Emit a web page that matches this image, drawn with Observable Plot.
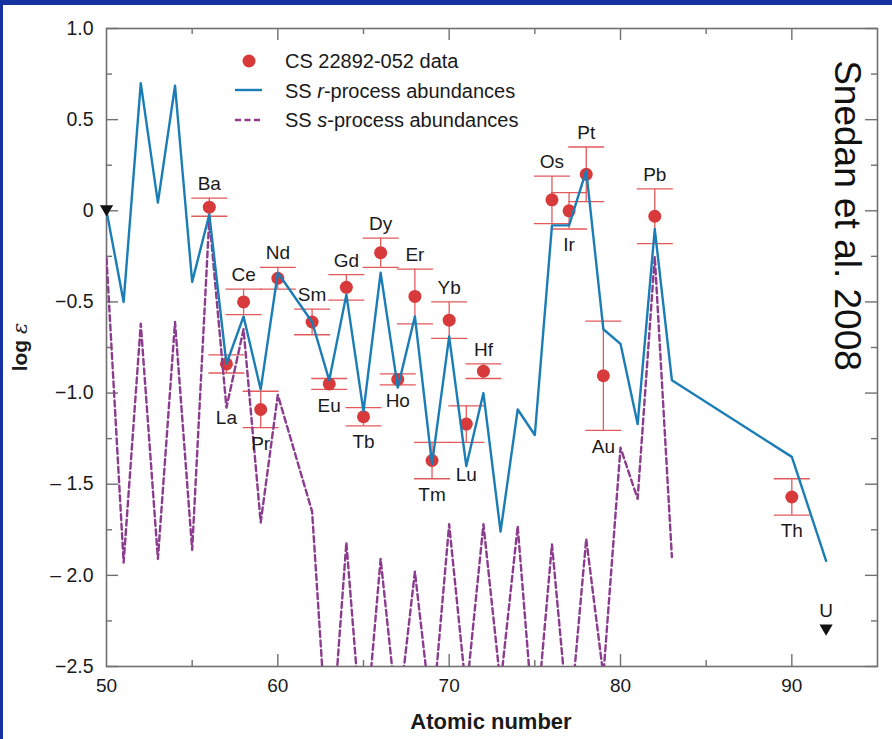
<!DOCTYPE html>
<html>
<head>
<meta charset="utf-8">
<script src="https://cdn.jsdelivr.net/npm/d3@7"></script>
<script src="https://cdn.jsdelivr.net/npm/@observablehq/plot@0.6"></script>
<style>
  body { margin: 0; background: #fff; }
  #chart { width: 892px; height: 739px; }
</style>
</head>
<body>
<div id="chart"></div>
<script>
// ---- Data ----
const elements      = ["Ba","La","Ce","Pr","Nd","Sm","Eu","Gd","Tb","Dy","Ho","Er","Tm","Yb","Lu","Hf","Os","Ir","Pt","Au","Pb","Th"];
const atomicNumbers = [56,57,58,59,60,62,63,64,65,66,67,68,69,70,71,72,76,77,78,79,82,90];
const logEps        = [0.02,-0.84,-0.50,-1.09,-0.37,-0.61,-0.95,-0.42,-1.13,-0.23,-0.925,-0.47,-1.37,-0.60,-1.17,-0.88,0.06,0.00,0.20,-0.905,-0.03,-1.57];
const logEpsErr     = [0.05,0.05,0.07,0.10,0.06,0.07,0.03,0.07,0.05,0.08,0.03,0.15,0.10,0.10,0.10,0.04,0.13,0.10,0.15,0.30,0.15,0.10];
const labelSide     = ["above","below","above","below","above","above","below","above","below","above","below","above","below","above","below","above","above","below","above","below","above","below"];

const rProcessZ   = [50,51,52,53,54,55,56,57,58,59,60,62,63,64,65,66,67,68,69,70,71,72,73,74,75,76,77,78,79,80,81,82,83,90,92];
const rProcessVal = [0.00,-0.50,0.70,0.045,0.686,-0.39,-0.02,-0.84,-0.58,-0.98,-0.34,-0.61,-0.93,-0.46,-1.10,-0.34,-0.97,-0.58,-1.39,-0.69,-1.40,-1.00,-1.76,-1.09,-1.23,-0.08,-0.08,0.22,-0.65,-0.73,-1.17,-0.10,-0.93,-1.35,-1.92];

const sProcessZ   = [50,51,52,53,54,55,56,57,58,59,60,62,63,64,65,66,67,68,69,70,71,72,73,74,75,76,77,78,79,80,81,82,83];
const sProcessVal = [-0.26,-1.93,-0.62,-1.91,-0.61,-1.86,-0.04,-1.08,-0.65,-1.71,-1.01,-1.65,-3.1,-1.82,-3.0,-1.91,-2.8,-1.98,-2.8,-1.72,-2.65,-1.72,-2.6,-1.73,-2.9,-1.83,-2.85,-1.80,-2.55,-1.30,-1.58,-0.25,-1.90];

const limitLabels = ["Sn","U"];
const limitZ      = [50,92];
const limitVal    = [0.01,-2.29];
const limitShown  = ["","U"];

const xLabelTicks = [50,60,70,80,90];
const xMajorTicks = [60,70,80,90];
const xMinorTicks = [55,65,75,85];
const yTickValues = [1.0,0.5,0,-0.5,-1.0,-1.5,-2.0,-2.5];
const yTickLabels = ["1.0","0.5","0","\u22120.5","\u22121.0","\u2013 1.5","\u2013 2.0","\u22122.5"];
const yMinorTicks = [0.75,0.25,-0.25,-0.75,-1.25,-1.75,-2.25];

// ---- Tables built from the arrays ----
const obs = elements.map((el, i) => ({
  el, z: atomicNumbers[i], v: logEps[i], e: logEpsErr[i], side: labelSide[i]
}));
const rLine = rProcessZ.map((z, i) => ({z, v: rProcessVal[i]}));
const sLine = sProcessZ.map((z, i) => ({z, v: sProcessVal[i]}));
const limits = limitLabels.map((el, i) => ({el, z: limitZ[i], v: limitVal[i], shown: limitShown[i]}));

// label placement (annotation layout, pixels)
const labelGapPx = {La: 45, Lu: 33};
const aboveDy = -14, belowDy = 16;

const W = 892, H = 739, mL = 106, mR = 15, mT = 28, mB = 73;
const plotW = W - mL - mR, plotH = H - mT - mB;
const AX = "#707070";
const RED = "#d8393a", ERR = "#e25a5a", BLUE = "#1b7db6", PURPLE = "#8c3c8e";
const FONT = "'Liberation Sans', Arial, Helvetica, sans-serif";

const capSymbol = {draw(ctx) { ctx.moveTo(-18, 0); ctx.lineTo(18, 0); }};

// label text marks grouped by offset
const labelGroups = new Map();
for (const d of obs) {
  const dy = d.side === "above" ? aboveDy : (labelGapPx[d.el] ?? belowDy);
  if (!labelGroups.has(dy)) labelGroups.set(dy, []);
  labelGroups.get(dy).push(d);
}
const labelMarks = [...labelGroups].map(([dy, arr]) =>
  Plot.text(arr, {
    x: "z",
    y: d => d.side === "above" ? d.v + d.e : d.v - d.e,
    text: "el", dy, fontSize: 19, fill: "#1a1a1a", textAnchor: "middle"
  })
);

const plot = Plot.plot({
  width: W, height: H,
  marginLeft: mL, marginRight: mR, marginTop: mT, marginBottom: mB,
  style: {fontFamily: FONT, background: "white", color: "#222", overflow: "visible"},
  x: {domain: [50, 95]},
  y: {domain: [-2.5, 1.0]},
  marks: [
    // inward ticks on all four sides
    Plot.ruleY(yTickValues, {y: d => d, insetRight: plotW - 12, stroke: AX, strokeWidth: 1.4}),
    Plot.ruleY(yMinorTicks, {y: d => d, insetRight: plotW - 6, stroke: AX, strokeWidth: 1.4}),
    Plot.ruleY(yTickValues, {y: d => d, insetLeft: plotW - 12, stroke: AX, strokeWidth: 1.4}),
    Plot.ruleY(yMinorTicks, {y: d => d, insetLeft: plotW - 6, stroke: AX, strokeWidth: 1.4}),
    Plot.ruleX(xMajorTicks, {x: d => d, insetTop: plotH - 12, stroke: AX, strokeWidth: 1.4}),
    Plot.ruleX(xMinorTicks, {x: d => d, insetTop: plotH - 6, stroke: AX, strokeWidth: 1.4}),
    Plot.ruleX(xMajorTicks, {x: d => d, insetBottom: plotH - 12, stroke: AX, strokeWidth: 1.4}),
    Plot.ruleX(xMinorTicks, {x: d => d, insetBottom: plotH - 6, stroke: AX, strokeWidth: 1.4}),
    Plot.frame({stroke: AX, strokeWidth: 1.6}),
    Plot.axisX({ticks: xLabelTicks, tickSize: 0, tickPadding: 12, fontSize: 19, label: null, fill: "#1a1a1a"}),
    Plot.axisY({ticks: yTickValues, tickFormat: d => yTickLabels[yTickValues.indexOf(d)], tickSize: 0, tickPadding: 13, fontSize: 19.5, label: null, fill: "#1a1a1a"}),
    // error bars
    Plot.ruleX(obs, {x: "z", y1: d => d.v - d.e, y2: d => d.v + d.e, stroke: ERR, strokeWidth: 1.3}),
    Plot.dot(obs, {x: "z", y: d => d.v + d.e, symbol: capSymbol, fill: "none", stroke: ERR, strokeWidth: 1.3}),
    Plot.dot(obs, {x: "z", y: d => d.v - d.e, symbol: capSymbol, fill: "none", stroke: ERR, strokeWidth: 1.3}),
    Plot.dot(obs, {x: "z", y: "v", r: 6.5, fill: RED, stroke: "none"}),
    // model curves
    Plot.line(sLine, {x: "z", y: "v", stroke: PURPLE, strokeWidth: 2.4, strokeDasharray: "6,3.5", clip: true}),
    Plot.line(rLine, {x: "z", y: "v", stroke: BLUE, strokeWidth: 2.4, clip: true}),
    // upper limits
    Plot.dot(limits, {x: "z", y: "v", symbol: "triangle", rotate: 180, r: 4.9, fill: "#111", stroke: "none"}),
    Plot.text(limits, {x: "z", y: "v", text: "shown", dy: -17, fontSize: 19, fill: "#1a1a1a"}),
    ...labelMarks
  ]
});

document.getElementById("chart").appendChild(plot);

// ---- decorations: legend, titles, border strips ----
const svg = d3.select(plot);
const g = svg.append("g").attr("font-family", FONT).attr("fill", "#1a1a1a").attr("text-anchor", "start");

// legend
g.append("circle").attr("cx", 249).attr("cy", 61).attr("r", 6.5).attr("fill", RED);
g.append("line").attr("x1", 235).attr("x2", 262).attr("y1", 90).attr("y2", 90)
  .attr("stroke", BLUE).attr("stroke-width", 2.4);
g.append("line").attr("x1", 235).attr("x2", 262).attr("y1", 120).attr("y2", 120)
  .attr("stroke", PURPLE).attr("stroke-width", 2.4).attr("stroke-dasharray", "6,3.5");
g.append("text").attr("x", 285).attr("y", 68).attr("font-size", 20).attr("text-anchor", "start").text("CS 22892-052 data");
const t2 = g.append("text").attr("x", 285).attr("y", 98).attr("font-size", 20).attr("text-anchor", "start");
t2.append("tspan").text("SS ");
t2.append("tspan").attr("font-style", "italic").text("r");
t2.append("tspan").text("-process abundances");
const t3 = g.append("text").attr("x", 285).attr("y", 127).attr("font-size", 20).attr("text-anchor", "start");
t3.append("tspan").text("SS ");
t3.append("tspan").attr("font-style", "italic").text("s");
t3.append("tspan").text("-process abundances");

// axis titles
g.append("text").attr("x", 491).attr("y", 729).attr("text-anchor", "middle")
  .attr("font-size", 22).attr("font-weight", "bold").text("Atomic number");
const yl = g.append("text").attr("transform", "translate(27,347) rotate(-90)")
  .attr("text-anchor", "middle").attr("font-size", 21);
yl.append("tspan").attr("font-weight", "bold").text("log ");
yl.append("tspan").attr("font-style", "italic").attr("font-family", "'DejaVu Serif', serif").text("\u03B5");

// citation
g.append("text").attr("transform", "translate(835,215.5) rotate(90)")
  .attr("text-anchor", "middle").attr("font-size", 37).attr("fill", "#111").text("Snedan et al. 2008");

// navy strips at top and left
svg.append("rect").attr("x", 0).attr("y", 0).attr("width", W).attr("height", 5).attr("fill", "#1631a0");
svg.append("rect").attr("x", 0).attr("y", 0).attr("width", 3).attr("height", H).attr("fill", "#1631a0");
</script>
</body>
</html>
